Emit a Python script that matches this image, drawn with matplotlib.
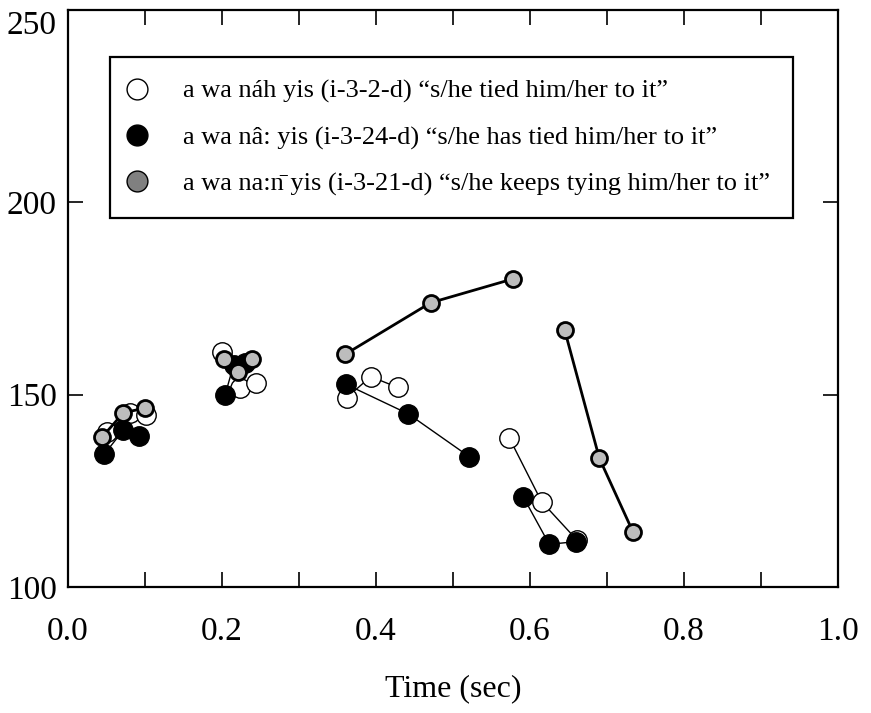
import matplotlib
matplotlib.use('Agg')
import matplotlib.pyplot as plt
from matplotlib.lines import Line2D

plt.rcParams['font.family'] = ['Liberation Serif', 'DejaVu Serif']

# time (sec) and F0 values, one sub-list per syllable
white_t = [[0.050, 0.080, 0.101], [0.200, 0.223, 0.244], [0.362, 0.393, 0.428], [0.573, 0.615, 0.661]]
white_f = [[140.4, 145.2, 144.7], [161.2, 151.7, 153.0], [149.2, 154.7, 151.9], [138.8, 122.2, 112.2]]
black_t = [[0.047, 0.072, 0.092], [0.204, 0.215, 0.230], [0.361, 0.442, 0.521], [0.591, 0.625, 0.660]]
black_f = [[134.5, 140.8, 139.3], [149.9, 157.7, 158.2], [152.7, 145.0, 133.9], [123.5, 111.1, 111.8]]
gray_t = [[0.044, 0.072, 0.100], [0.202, 0.221, 0.239], [0.360, 0.471, 0.578], [0.645, 0.690, 0.734]]
gray_f = [[138.9, 145.3, 146.5], [159.2, 156.0, 159.4], [160.5, 173.9, 180.1], [166.8, 133.5, 114.2]]

labels = ['a wa náh yis (i-3-2-d) \u201cs/he tied him/her to it\u201d',
          'a wa nâ: yis (i-3-24-d) \u201cs/he has tied him/her to it\u201d',
          'a wa na:n\u0304 yis (i-3-21-d) \u201cs/he keeps tying him/her to it\u201d']

xticks = [0.0, 0.1, 0.2, 0.3, 0.4, 0.5, 0.6, 0.7, 0.8, 0.9, 1.0]
xticklabels = ['0.0', '', '0.2', '', '0.4', '', '0.6', '', '0.8', '', '1.0']
yticks = [100, 150, 200, 250]

fig = plt.figure(figsize=(8.71, 7.13), dpi=100)
ax = fig.add_axes([68 / 871, 126 / 713, 770 / 871, 577 / 713])

for ts, fs in zip(white_t, white_f):
    ax.plot(ts, fs, '-o', color='black', lw=1.0, ms=14, mfc='white', mec='black', mew=1.0, zorder=2)
for ts, fs in zip(black_t, black_f):
    ax.plot(ts, fs, '-o', color='black', lw=1.0, ms=14, mfc='black', mec='black', mew=1.0, zorder=3)
for ts, fs in zip(gray_t, gray_f):
    ax.plot(ts, fs, '-o', color='black', lw=2.0, ms=11.5, mfc='#bdbdbd', mec='black', mew=2.0, zorder=4)

ax.set_xlim(0, 1)
ax.set_ylim(100, 250)
ax.set_xticks(xticks)
ax.set_xticklabels(xticklabels)
ax.set_yticks(yticks)
ax.tick_params(direction='in', length=11, width=1.2, labelsize=24, top=True, right=True)
ax.tick_params(axis='x', pad=21)
ax.tick_params(axis='y', pad=8)
# top label sits inside the canvas, as in the original
ax.get_yticklabels()[-1].set_verticalalignment('top')
for sp in ax.spines.values():
    sp.set_linewidth(1.6)
ax.set_xlabel('Time (sec)', fontsize=23, labelpad=20)

handles = [
    Line2D([], [], ls='none', marker='o', ms=15, mfc='white', mec='black', mew=1.0),
    Line2D([], [], ls='none', marker='o', ms=15, mfc='black', mec='black', mew=1.0),
    Line2D([], [], ls='none', marker='o', ms=15, mfc='#808080', mec='black', mew=1.0),
]
leg = ax.legend(handles, labels, loc='upper left', bbox_to_anchor=(42 / 770, 530 / 577),
                borderaxespad=0, fontsize=19, frameon=True, fancybox=False,
                edgecolor='black', framealpha=1, labelspacing=0.85, borderpad=0.85,
                handlelength=0.31, handletextpad=1.61)
leg.get_frame().set_linewidth(1.6)

fig.savefig('out.png', dpi=100)
